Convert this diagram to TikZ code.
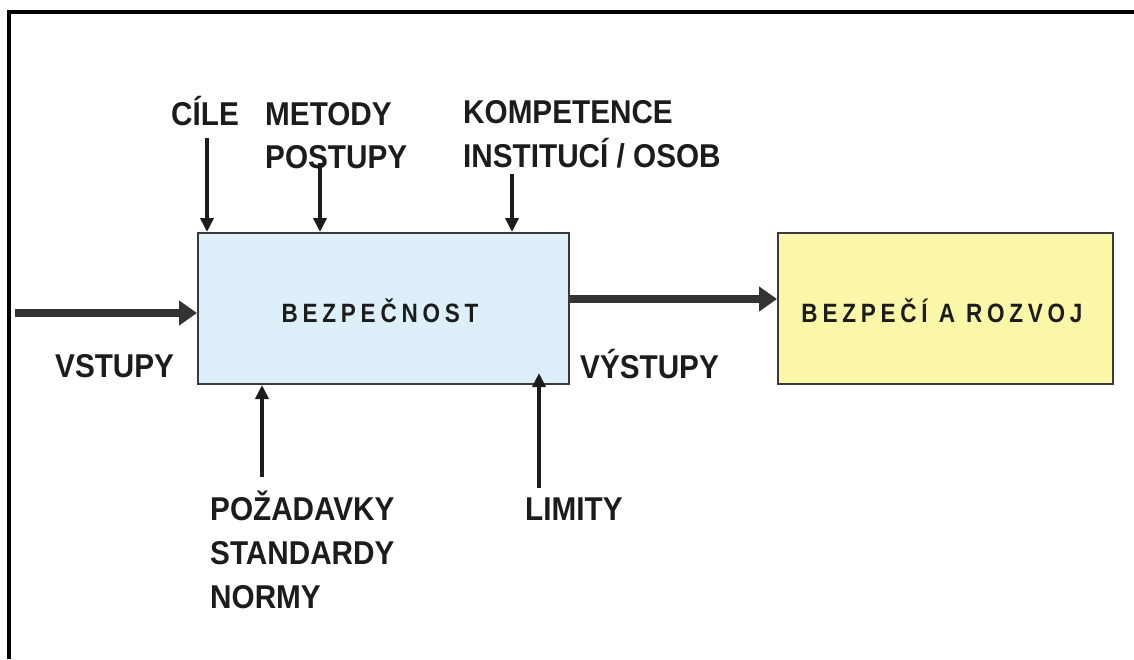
\documentclass[tikz,border=0pt]{standalone}
\usepackage{fontspec}
\newfontfamily\lab{Liberation Sans}[FakeStretch=0.9]
\newfontfamily\boxlab{Liberation Sans}[FakeStretch=0.85,LetterSpace=18]
\usetikzlibrary{arrows.meta}
\definecolor{inkc}{HTML}{1C1C1C}
\definecolor{bluefill}{HTML}{DDF0FA}
\definecolor{yellowfill}{HTML}{FAF7A8}
\definecolor{edgec}{HTML}{3A3A3A}
\tikzset{
  lbl/.style={inner sep=0pt, anchor=base west, text=inkc, font=\lab\bfseries\fontsize{33}{44}\selectfont, align=left},
  boxtxt/.style={text=inkc, font=\boxlab\bfseries\fontsize{26.5}{30}\selectfont},
  procbox/.style={draw=edgec, line width=2pt, anchor=north west, inner sep=0pt},
  thinarrow/.style={draw=inkc, line width=3.5pt, -{Triangle[length=14pt,width=13pt]}},
  thickarrow/.style={draw=inkc!90, line width=8pt, -{Triangle[length=18pt,width=24pt]}},
  frameline/.style={draw=black, line width=3.5pt}
}
\begin{document}
\begin{tikzpicture}[x=1pt,y=-1pt]
\useasboundingbox (0,0) rectangle (1134,659);
% frame (top and left edges visible)
\coordinate (ftl) at (9,12);
\coordinate (ftr) at (1134,12);
\coordinate (fbl) at (9,659);
\draw[frameline] (ftr) -- (ftl) -- (fbl);

% boxes
\node[procbox, fill=bluefill, minimum width=371pt, minimum height=151pt] (bez) at (197,232) {};
\node[boxtxt] (beztxt) at (380,311) {BEZPEČNOST};
\node[procbox, fill=yellowfill, minimum width=335pt, minimum height=151pt] (roz) at (777,232) {};
\node[boxtxt] (roztxt) at (942,311) {BEZPEČÍ A ROZVOJ};

% labels (base = baseline of the last line)
\node[lbl] (cile) at (171,125) {CÍLE};
\node[lbl] (metody) at (265,168) {METODY\\[-1pt]POSTUPY};
\node[lbl] (komp) at (463,167) {KOMPETENCE\\[-0.5pt]INSTITUCÍ / OSOB};
\node[lbl] (vstupy) at (55,377) {VSTUPY};
\node[lbl] (vystupy) at (580,378) {VÝSTUPY};
\node[lbl] (poz) at (210,608) {POŽADAVKY\\STANDARDY\\NORMY};
\node[lbl] (limity) at (525,520) {LIMITY};

% arrow start points
\coordinate (acile) at (207,138);
\coordinate (amet) at (320,163);
\coordinate (akomp) at (512,174);
\coordinate (apoz) at (262,477);
\coordinate (alim) at (539,488);
\coordinate (ain) at (15,313);
\coordinate (limend) at (539,373);

% thin arrows
\draw[thinarrow] (acile) -- (acile |- bez.north);
\draw[thinarrow] (amet) -- (amet |- bez.north);
\draw[thinarrow] (akomp) -- (akomp |- bez.north);
\draw[thinarrow] (apoz) -- (apoz |- bez.south);
\draw[thinarrow] (alim) -- (limend);

% thick arrows
\draw[thickarrow] (ain) -- (ain -| bez.west);
\draw[thickarrow] (bez.east |- 0,299) -- (roz.west |- 0,299);
\end{tikzpicture}
\end{document}
